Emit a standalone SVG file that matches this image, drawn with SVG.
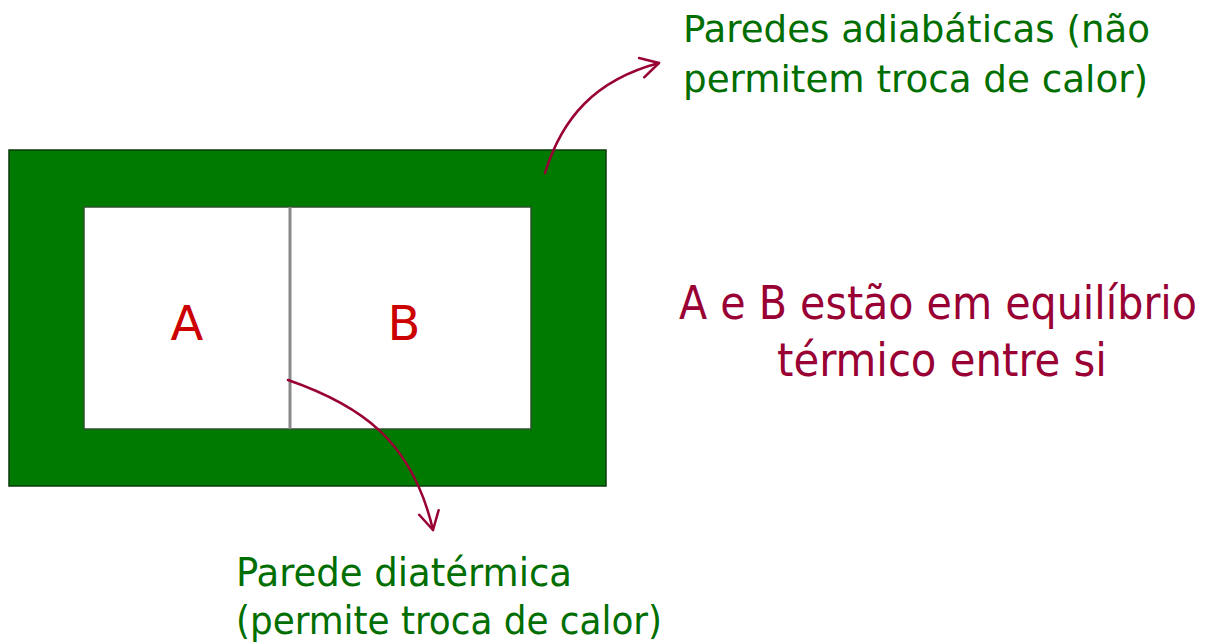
<svg xmlns="http://www.w3.org/2000/svg" width="1213" height="644" viewBox="0 0 1213 644">
<style>
.t{font-family:"DejaVu Sans","Noto Sans",sans-serif;font-stretch:condensed}
.n{font-stretch:normal}
.g{fill:#006e00}
.m{fill:#990033}
.r{fill:#cc0000}
.c{fill:none;stroke:#990033;stroke-width:2.5;stroke-linecap:round;stroke-linejoin:round}
</style>
<defs>
<marker id="ah" viewBox="0 0 24 24" refX="21" refY="12" markerWidth="24" markerHeight="24" markerUnits="userSpaceOnUse" orient="auto">
<path d="M3,2 L21,12 L3,22" class="c"/>
</marker>
</defs>
<rect width="1213" height="644" fill="#ffffff"/>
<g id="container">
<rect x="9" y="150" width="597" height="336" fill="#007a00" stroke="#0a3a0a" stroke-width="1.5"/>
<rect x="84" y="207" width="447" height="222" fill="#ffffff" stroke="#2f4f2f" stroke-width="1.5"/>
</g>
<g id="wall">
<line x1="290" y1="207" x2="290" y2="429" stroke="#888888" stroke-width="3"/>
</g>
<g id="A"><text class="t n r" x="187" y="340" font-size="48" text-anchor="middle">A</text></g>
<g id="B"><text class="t n r" x="404" y="340" font-size="48" text-anchor="middle">B</text></g>
<g id="adiabatic-label">
<text class="t g" x="683" y="42" font-size="38" textLength="467" lengthAdjust="spacingAndGlyphs">Paredes adiabáticas (não</text>
<text class="t g" x="683" y="92" font-size="38" textLength="465" lengthAdjust="spacingAndGlyphs">permitem troca de calor)</text>
</g>
<g id="equilibrium-label">
<text class="t m" x="679" y="319" font-size="46" textLength="518" lengthAdjust="spacingAndGlyphs">A e B estão em equilíbrio</text>
<text class="t m" x="777" y="376" font-size="46" textLength="330" lengthAdjust="spacingAndGlyphs">térmico entre si</text>
</g>
<g id="diathermic-label">
<text class="t g" x="236" y="586" font-size="39" textLength="336" lengthAdjust="spacingAndGlyphs">Parede diatérmica</text>
<text class="t g" x="236" y="634" font-size="39" textLength="426" lengthAdjust="spacingAndGlyphs">(permite troca de calor)</text>
</g>
<g id="connectors">
<path class="c" d="M545,173 C562,118 595,80 659,63" marker-end="url(#ah)"/>
<path class="c" d="M288,380 C360,405 412,440 433,530" marker-end="url(#ah)"/>
</g>
</svg>
